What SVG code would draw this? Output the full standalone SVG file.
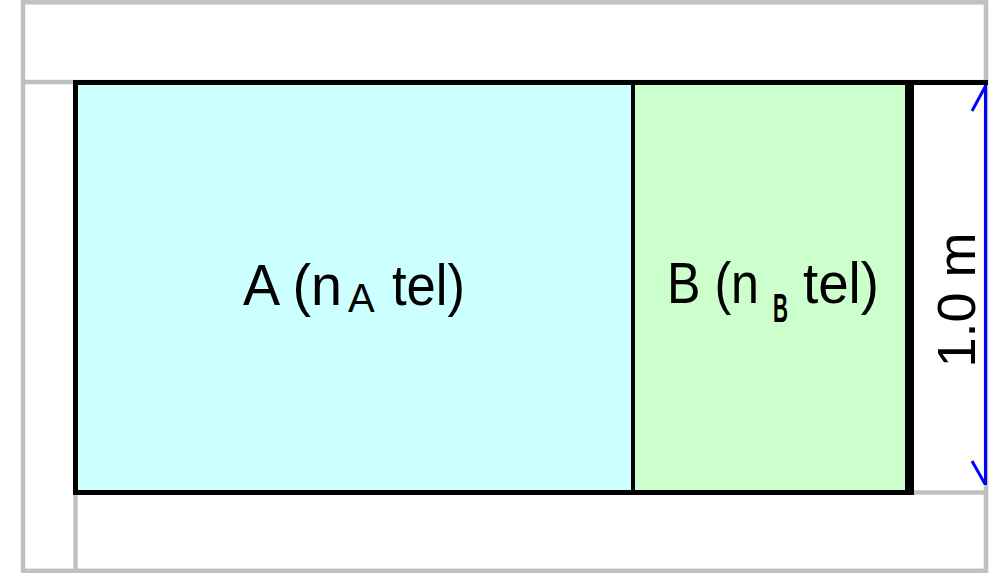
<svg xmlns="http://www.w3.org/2000/svg" width="997" height="573" viewBox="0 0 997 573">
<style>
.grid{stroke:#c0c0c0;stroke-width:4.5;fill:none}
.blk{fill:#000}
.lbl{font-family:"Liberation Sans",Arial,sans-serif;fill:#000}
.dim{stroke:#0000ff;stroke-width:3;fill:none;stroke-linecap:butt}
</style>
<rect width="997" height="573" fill="#ffffff"/>
<g id="frame">
<rect class="grid" x="23" y="2.3" width="963" height="568.5"/>
<line class="grid" x1="23" y1="82" x2="986" y2="82"/>
<line class="grid" x1="75.5" y1="82" x2="75.5" y2="571"/>
<line class="grid" x1="75" y1="492.5" x2="986" y2="492.5"/>
</g>
<g id="nodeA">
<rect x="78" y="85" width="553" height="405" fill="#ccffff"/>
<text class="lbl" x="243" y="305" font-size="58" textLength="99" lengthAdjust="spacingAndGlyphs">A (n</text>
<text class="lbl" x="348" y="312" font-size="40">A</text>
<text class="lbl" x="392" y="305" font-size="58" textLength="73" lengthAdjust="spacingAndGlyphs">tel)</text>
</g>
<g id="nodeB">
<rect x="635" y="85" width="270" height="405" fill="#ccffcc"/>
<text class="lbl" x="667" y="303" font-size="58" textLength="92" lengthAdjust="spacingAndGlyphs">B (n</text>
<text class="lbl" x="773" y="322" font-size="40" font-weight="bold" textLength="15" lengthAdjust="spacingAndGlyphs">B</text>
<text class="lbl" x="803" y="303" font-size="58" textLength="76" lengthAdjust="spacingAndGlyphs">tel)</text>
</g>
<g id="borders">
<rect class="blk" x="73" y="80" width="915" height="5"/>
<rect class="blk" x="73" y="80" width="5" height="415"/>
<rect class="blk" x="73" y="490" width="841" height="5"/>
<rect class="blk" x="905" y="80" width="9" height="415"/>
<rect class="blk" x="631" y="80" width="4" height="415"/>
</g>
<g id="connectors">
<line class="dim" x1="985.5" y1="85" x2="985.5" y2="485"/>
<polyline class="dim" stroke-width="2.5" points="972,111 985,87"/>
<polyline class="dim" stroke-width="2.5" points="972,461 985,484"/>
</g>
<g id="dimlabel">
<text class="lbl" font-size="54" text-anchor="middle" transform="translate(975,300) rotate(-90)">1.0 m</text>
</g>
</svg>
